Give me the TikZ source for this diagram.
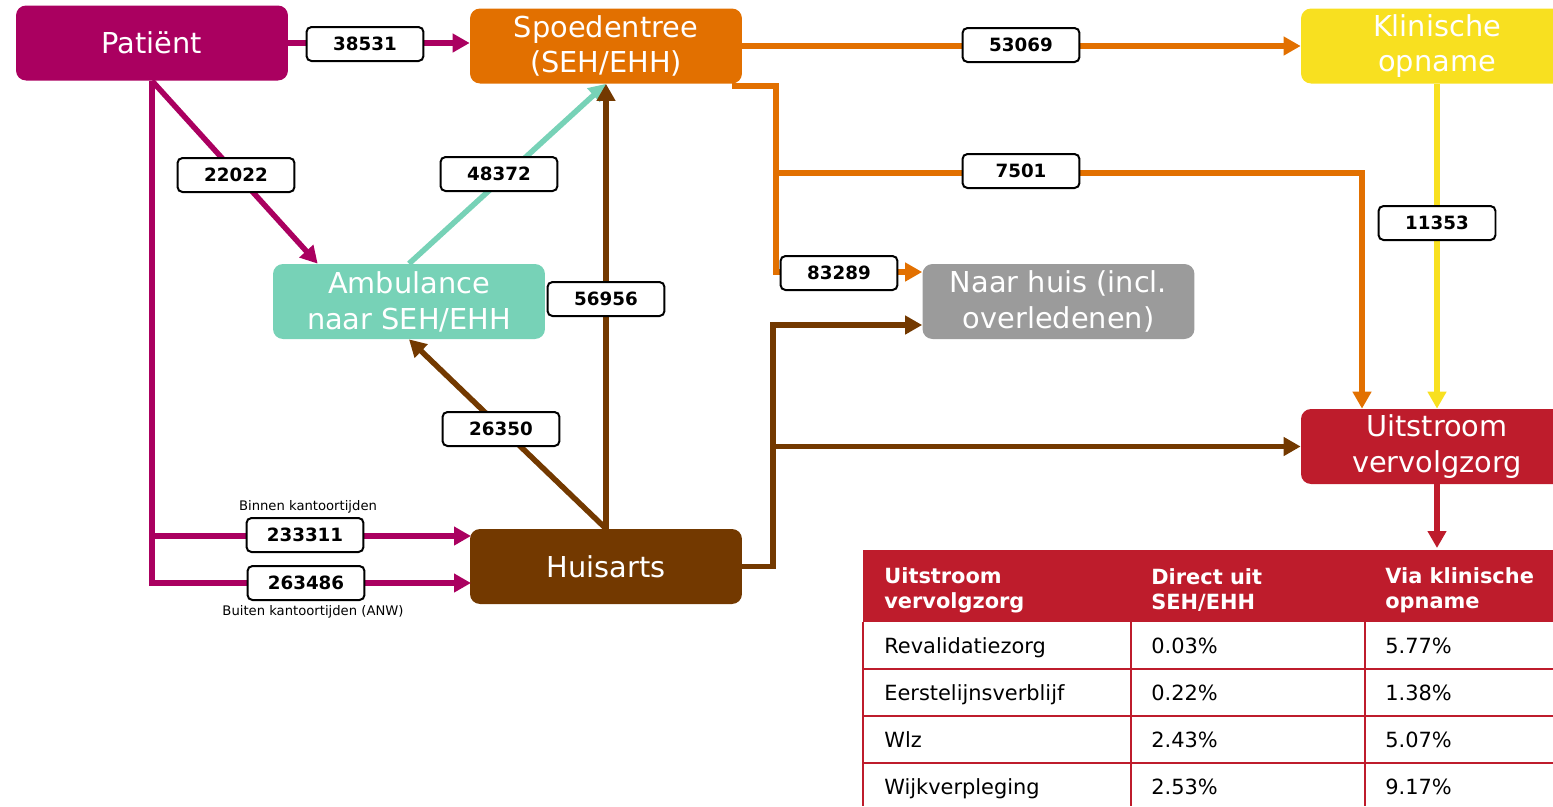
\documentclass[tikz,border=0pt]{standalone}
\usepackage{fontspec}
\setmainfont{DejaVu Sans}
\usetikzlibrary{arrows.meta,calc}

\definecolor{patcol}{RGB}{170,0,96}
\definecolor{sehcol}{RGB}{226,112,0}
\definecolor{klincol}{RGB}{248,224,32}
\definecolor{ambcol}{RGB}{119,210,183}
\definecolor{huiscol}{RGB}{155,155,155}
\definecolor{uitcol}{RGB}{190,28,44}
\definecolor{hacol}{RGB}{115,57,0}

\begin{document}
\begin{tikzpicture}[x=0.02cm,y=-0.02cm,
  blok/.style={rounded corners=0.2cm,minimum width=5.44cm,minimum height=1.5cm,inner sep=0pt,
    text=white,align=center,font=\fontsize{16.4pt}{20.4pt}\selectfont},
  getal/.style={draw=black,line width=0.04cm,fill=white,rounded corners=0.1cm,minimum width=2.34cm,
    minimum height=0.68cm,inner sep=0pt,font=\bfseries\fontsize{10.4pt}{12pt}\selectfont},
  pijl/.style={line width=0.11cm,-{Triangle[length=0.34cm,width=0.36cm]}},
  notitie/.style={inner sep=0pt,font=\fontsize{7.5pt}{9pt}\selectfont},
  rij/.style={draw=uitcol,line width=0.04cm},
  cel/.style={anchor=base west,inner sep=0pt,font=\fontsize{11.9pt}{14.2pt}\selectfont},
  kop/.style={anchor=west,inner sep=0pt,align=left,text=white,font=\bfseries\fontsize{11.9pt}{14.2pt}\selectfont}]
\useasboundingbox (0,0) rectangle (1553,806);
\clip (0,0) rectangle (1553,806);

\node[blok,fill=patcol] (pat) at (152,43) {Patiënt};
\node[blok,fill=sehcol] (seh) at (606,46) {Spoedentree\\(SEH/EHH)};
\node[blok,fill=klincol] (klin) at (1437,46) {Klinische\\opname};
\node[blok,fill=ambcol] (amb) at (409,301.5) {Ambulance\\naar SEH/EHH};
\node[blok,fill=huiscol] (huis) at (1058.5,301.5) {Naar huis (incl.\\overledenen)};
\node[blok,fill=uitcol] (uit) at (1437,446.5) {Uitstroom\\vervolgzorg};
\node[blok,fill=hacol] (ha) at (606,566.5) {Huisarts};

\coordinate (hin) at (471,536);
\coordinate (hout) at (471,583);
\coordinate (hx) at (773,325);
\coordinate (sx) at (776,272);
\coordinate (sb) at (776,173);
\coordinate (tab) at (1437,548);

\draw[pijl,patcol] (pat.east) -- (pat.east -| seh.west);
\draw[pijl,patcol] (pat.south) -- ($(amb.north west)+(45,0)$);
\draw[pijl,patcol] (pat.south) |- (hin);
\draw[pijl,patcol] (pat.south) |- (hout);
\draw[pijl,ambcol] (amb.north) -- (seh.south);
\draw[pijl,hacol] (ha.north) -- (seh.south);
\draw[pijl,hacol] (ha.north) -- (amb.south);
\draw[pijl,hacol] (ha.east) -| (hx) -- (hx -| huis.west);
\draw[pijl,hacol] (hx |- uit.west) -- (uit.west);
\draw[pijl,sehcol] (seh.east) -- (klin.west);
\draw[pijl,sehcol] ($(seh.south east)+(-10,2)$) -| (sx) -- (sx -| huis.west);
\draw[pijl,sehcol] (sb) -| ($(uit.north)+(-75,0)$);
\draw[pijl,klincol] (klin.south) -- (uit.north);
\draw[pijl,uitcol] (uit.south) -- (tab);

\node[getal] (l1) at (365,44) {38531};
\node[getal] (l2) at (236,175) {22022};
\node[getal] (l3) at (499,174) {48372};
\node[getal] (l4) at (606,299) {56956};
\node[getal] (l5) at (501,429) {26350};
\node[getal] (l6) at (305,535) {233311};
\node[getal] (l7) at (306,583) {263486};
\node[getal] (l8) at (1021,45) {53069};
\node[getal] (l9) at (1021,171) {7501};
\node[getal] (l10) at (839,273) {83289};
\node[getal] (l11) at (1437,223) {11353};
\node[notitie] (n1) at (308,507) {Binnen kantoortijden};
\node[notitie] (n2) at (313,612) {Buiten kantoortijden (ANW)};

\fill[uitcol] (863,550) rectangle (1553,622);
\foreach \y in {669,716,763} \draw[rij] (863,\y) -- (1553,\y);
\foreach \x in {863,1131,1365} \draw[rij] (\x,622) -- (\x,806);
\node[kop] (k1) at (884,590) {Uitstroom\\vervolgzorg};
\node[kop] (k2) at (1151,590) {Direct uit\\SEH/EHH};
\node[kop] (k3) at (1385,590) {Via klinische\\opname};
\foreach \naam/\direct/\via [count=\i] in {Revalidatiezorg/0.03\%/5.77\%,
    Eerstelijnsverblijf/0.22\%/1.38\%,Wlz/2.43\%/5.07\%,Wijkverpleging/2.53\%/9.17\%} {
  \node[cel] (c\i a) at (884,606+47*\i) {\naam};
  \node[cel] (c\i b) at (1151,606+47*\i) {\direct};
  \node[cel] (c\i c) at (1385,606+47*\i) {\via};
}
\end{tikzpicture}
\end{document}
